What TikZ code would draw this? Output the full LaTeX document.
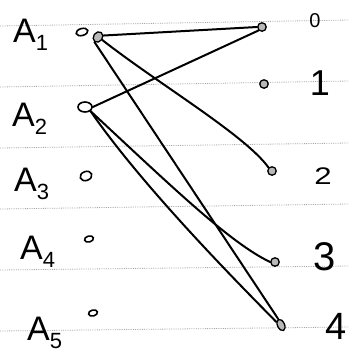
\documentclass[tikz,border=0pt]{standalone}
\usepackage{fontspec}
\setmainfont{Liberation Sans}
\usetikzlibrary{shapes.geometric}
\tikzset{
  rule/.style={gray!70, densely dotted, line width=0.8pt},
  edge/.style={black, line width=2pt, line cap=round},
  lv/.style={draw, ellipse, line width=1.6pt, inner sep=0pt, minimum width=#1},
  rv/.style={draw, circle, fill=gray!55, line width=1.3pt, inner sep=0pt, minimum size=8.5pt},
  lab/.style={anchor=base west, inner sep=0pt},
  rlab/.style={anchor=base, inner sep=0pt}
}
\newcommand{\Alab}[1]{\fontsize{34}{34}\selectfont A\raisebox{-8pt}{\fontsize{22}{22}\selectfont #1}}
\begin{document}
\begin{tikzpicture}[x=1pt,y=-1pt]
\useasboundingbox (0,0) rectangle (349,354);
\fill[white] (0,0) rectangle (349,354);
% ruled lines
\foreach \l/\r in {26/20, 87/81, 148/143, 209/204, 270/266, 331/327}
  \draw[rule] (0,\l) -- (349,\r);
% left labels
\node[lab] (tA1) at (13,42) {\Alab{1}};
\node[lab] (tA2) at (12,126) {\Alab{2}};
\node[lab] (tA3) at (14,191) {\Alab{3}};
\node[lab] (tA4) at (20,259) {\Alab{4}};
\node[lab] (tA5) at (27,340) {\Alab{5}};
% left vertices
\node[lv=12pt, minimum height=7pt, rotate=15] (a1) at (82,32) {};
\node[rv, ellipse, minimum width=9pt, minimum height=11pt, rotate=-35] (a1b) at (98,37) {};
\node[lv=14pt, minimum height=10pt] (a2) at (85,107) {};
\node[lv=12pt, minimum height=9pt, rotate=20] (a3) at (86,176) {};
\node[lv=9pt, minimum height=6pt, rotate=15] (a4) at (89,239) {};
\node[lv=9pt, minimum height=6pt, rotate=15] (a5) at (93,313) {};
% right vertices
\node[rv] (n0) at (262,27) {};
\node[rv] (n1) at (264,84) {};
\node[rv] (n2) at (272,171) {};
\node[rv] (n3) at (275,262) {};
\node[rv, ellipse, minimum width=7pt, minimum height=12pt, rotate=25] (n4) at (281,325) {};
% right labels
\node[rlab, font=\fontsize{20}{20}\selectfont] (t0) at (315,27) {0};
\node[rlab, font=\fontsize{36}{36}\selectfont] (t1) at (320,95) {1};
\node[rlab, font=\fontsize{24}{24}\selectfont, xscale=1.3] (t2) at (323,184) {2};
\node[rlab, font=\fontsize{40}{40}\selectfont] (t3) at (325,270) {3};
\node[rlab, font=\fontsize{38}{38}\selectfont] (t4) at (336,339) {4};
% edges
\draw[edge] (a1b.north east) -- (n0.west);
\draw[edge] (a1b.east) .. controls (160,85) and (245,135) .. (n2.north west);
\draw[edge] (a1b.south) -- (n4.north);
\draw[edge] (a2.east) -- (n0.south west);
\draw[edge] (a2.south east) .. controls (170,185) and (230,243) .. (n3.west);
\draw[edge] (a2.south east) .. controls (145,190) and (245,290) .. (n4.north west);
\end{tikzpicture}
\end{document}
